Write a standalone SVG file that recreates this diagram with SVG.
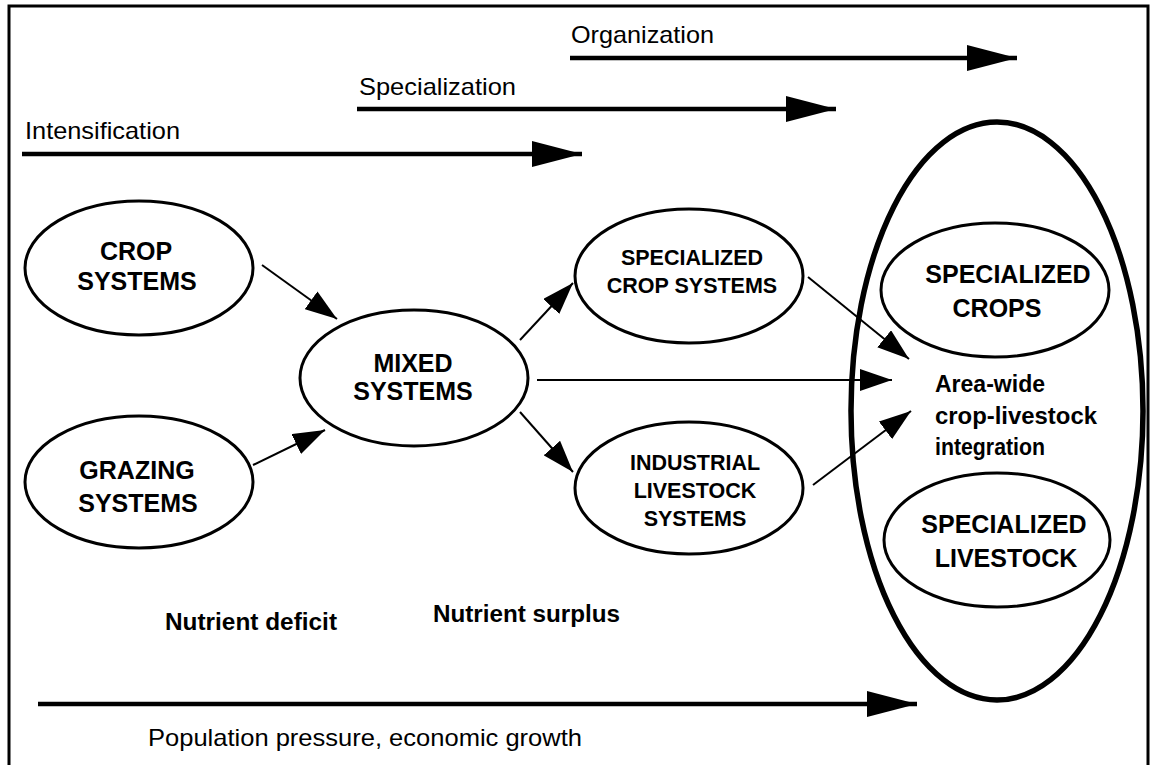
<svg xmlns="http://www.w3.org/2000/svg" width="1155" height="765" viewBox="0 0 1155 765">
<defs>
<style>
.lbl{font-family:"Liberation Sans",Arial,sans-serif;font-size:24px;fill:#000}
.nb{font-family:"Liberation Sans",Arial,sans-serif;font-weight:bold;font-size:25px;fill:#000;text-anchor:middle}
.nbs{font-family:"Liberation Sans",Arial,sans-serif;font-weight:bold;font-size:21.5px;fill:#000;text-anchor:middle}
.ab{font-family:"Liberation Sans",Arial,sans-serif;font-weight:bold;font-size:23px;fill:#000}
.node{fill:#fff;stroke:#000;stroke-width:3}
.thin{stroke:#000;stroke-width:2;fill:none;marker-end:url(#hs)}
.thick{stroke:#000;stroke-width:4.5;fill:none;marker-end:url(#hl)}
</style>
<marker id="hs" markerUnits="userSpaceOnUse" viewBox="0 0 32 22" refX="32" refY="11" markerWidth="32" markerHeight="22" orient="auto"><path d="M0,0 L32,11 L0,22 z" fill="#000"/></marker>
<marker id="hl" markerUnits="userSpaceOnUse" viewBox="0 0 50 26" refX="50" refY="13" markerWidth="50" markerHeight="26" orient="auto"><path d="M0,0 L50,13 L0,26 z" fill="#000"/></marker>
</defs>
<rect x="0" y="0" width="1155" height="765" fill="#fff"/>
<rect x="9" y="6" width="1139" height="800" fill="none" stroke="#000" stroke-width="3"/>

<g id="trends">
<text class="lbl" x="571" y="43" textLength="143" lengthAdjust="spacingAndGlyphs">Organization</text>
<text class="lbl" x="359" y="95" textLength="157" lengthAdjust="spacingAndGlyphs">Specialization</text>
<text class="lbl" x="25" y="139" textLength="155" lengthAdjust="spacingAndGlyphs">Intensification</text>
<text class="lbl" x="148" y="746" textLength="434" lengthAdjust="spacingAndGlyphs">Population pressure, economic growth</text>
<text class="ab" x="165" y="630" textLength="172" lengthAdjust="spacingAndGlyphs">Nutrient deficit</text>
<text class="ab" x="433" y="622" textLength="187" lengthAdjust="spacingAndGlyphs">Nutrient surplus</text>
</g>

<g id="connectors">
<line class="thick" x1="570" y1="58" x2="1017" y2="58"/>
<line class="thick" x1="357" y1="109" x2="836" y2="109"/>
<line class="thick" x1="22" y1="154" x2="582" y2="154"/>
<line class="thick" x1="38" y1="704" x2="917" y2="704"/>
<line class="thin" x1="262" y1="265" x2="337" y2="319"/>
<line class="thin" x1="253" y1="465" x2="325" y2="430"/>
<line class="thin" x1="520" y1="340" x2="573" y2="283"/>
<line class="thin" x1="520" y1="412" x2="573" y2="472"/>
<line class="thin" x1="537" y1="380" x2="892" y2="380"/>
<line class="thin" x1="808" y1="277" x2="909" y2="359"/>
<line class="thin" x1="813" y1="485" x2="911" y2="411"/>
</g>

<g id="area-wide">
<ellipse cx="997" cy="411" rx="146" ry="289" fill="none" stroke="#000" stroke-width="5.5"/>
<text class="ab" x="935" y="392" textLength="110" lengthAdjust="spacingAndGlyphs">Area-wide</text>
<text class="ab" x="935" y="424" textLength="162" lengthAdjust="spacingAndGlyphs">crop-livestock</text>
<text class="ab" x="935" y="455" textLength="110" lengthAdjust="spacingAndGlyphs">integration</text>
</g>

<g id="crop-systems">
<ellipse class="node" cx="139" cy="268" rx="114" ry="67"/>
<text class="nb" x="136" y="260">CROP</text>
<text class="nb" x="137" y="290">SYSTEMS</text>
</g>

<g id="grazing-systems">
<ellipse class="node" cx="139" cy="482" rx="114" ry="66"/>
<text class="nb" x="137" y="479">GRAZING</text>
<text class="nb" x="138" y="512">SYSTEMS</text>
</g>

<g id="mixed-systems">
<ellipse class="node" cx="414" cy="378" rx="114" ry="68"/>
<text class="nb" x="413" y="372">MIXED</text>
<text class="nb" x="413" y="400">SYSTEMS</text>
</g>

<g id="specialized-crop-systems">
<ellipse class="node" cx="689" cy="276" rx="114" ry="67"/>
<text class="nbs" x="692" y="265">SPECIALIZED</text>
<text class="nbs" x="692" y="293">CROP SYSTEMS</text>
</g>

<g id="industrial-livestock-systems">
<ellipse class="node" cx="689" cy="488" rx="114" ry="66"/>
<text class="nbs" x="695" y="470">INDUSTRIAL</text>
<text class="nbs" x="695" y="498">LIVESTOCK</text>
<text class="nbs" x="695" y="526">SYSTEMS</text>
</g>

<g id="specialized-crops">
<ellipse class="node" cx="995" cy="290" rx="114" ry="67"/>
<text class="nb" x="1008" y="283">SPECIALIZED</text>
<text class="nb" x="997" y="317">CROPS</text>
</g>

<g id="specialized-livestock">
<ellipse class="node" cx="997" cy="540" rx="113" ry="67"/>
<text class="nb" x="1004" y="533">SPECIALIZED</text>
<text class="nb" x="1006" y="567">LIVESTOCK</text>
</g>
</svg>
